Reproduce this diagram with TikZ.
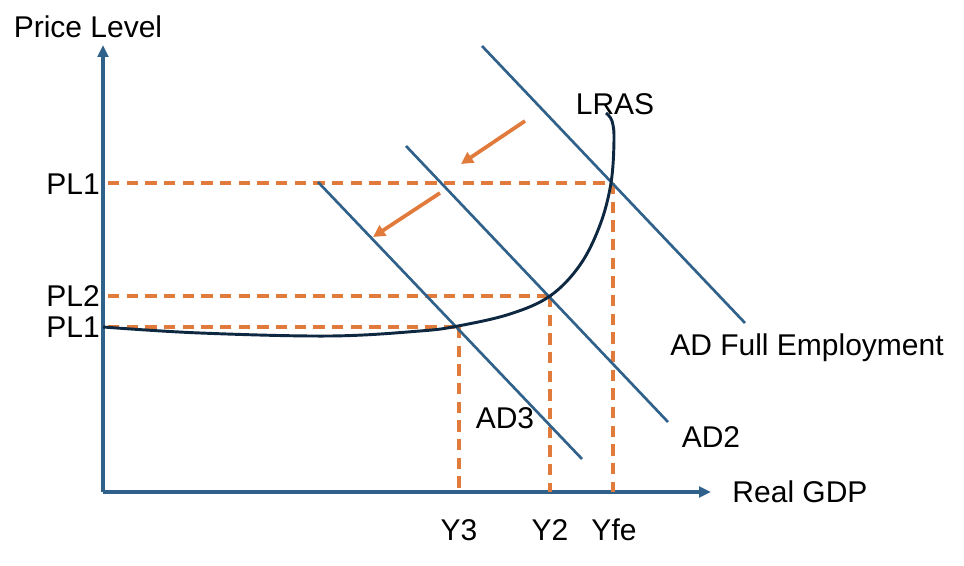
\documentclass[tikz,border=0pt]{standalone}
\usepackage{fontspec}
\setmainfont{Liberation Sans}
\usetikzlibrary{arrows.meta}
\definecolor{axisblue}{HTML}{30618A}
\definecolor{guideorange}{HTML}{E07B3C}
\definecolor{curvenavy}{HTML}{0E2841}
\tikzset{
  axisline/.style={axisblue, line width=2.4pt, -{Triangle[length=9pt,width=8pt]}},
  adline/.style={axisblue, line width=2pt},
  guide/.style={guideorange, line width=2.3pt, dash pattern=on 8.5pt off 5.5pt},
  shift arrow/.style={guideorange, line width=2.8pt, -{Triangle[length=9pt,width=9pt]}},
  lbl/.style={font=\fontsize{22.5}{26}\selectfont, inner sep=0pt}
}
\begin{document}
\begin{tikzpicture}[x=0.75pt,y=-0.75pt]
\useasboundingbox (0,0) rectangle (964,566);

% axes
\coordinate (O) at (103,492);
\draw [axisline] (O) -- (103,45);
\draw [axisline] (O) -- (711,492);

% equilibrium points
\coordinate (Efe) at (612,183);
\coordinate (E2) at (550,296);
\coordinate (E3) at (458,327);

% dashed guides
\draw [guide] (108,183) -- (Efe);
\draw [guide] (613,183) -- (613,492);
\draw [guide] (108,296) -- (E2);
\draw [guide] (550,296) -- (550,492);
\draw [guide] (108,327) -- (E3);
\draw [guide] (459,327) -- (459,492);

% aggregate demand
\draw [adline] (482,46) -- (745,323);
\draw [adline] (406,146) -- (668,422);
\draw [adline] (318,182) -- (582,459);

% LRAS
\draw [curvenavy, line width=2.2pt] plot [smooth, tension=0.6] coordinates {
  (103,327) (200,333) (330,336) (420,331) (458,326) (510,314) (550,296)
  (580,265) (600,225) (611,183) (614,140) (612,121) (606,113)};

% shifts
\draw [shift arrow] (525,121) -- (461,164);
\draw [shift arrow] (440,193) -- (373,237);

% labels
\node [lbl] (ylab) at (88,27) {Price Level};
\node [lbl] (xlab) at (800,492) {Real GDP};
\node [lbl] (pltop) at (73,184) {PL1};
\node [lbl] (plmid) at (73,296) {PL2};
\node [lbl] (pllow) at (73,327) {PL1};
\node [lbl] (lras) at (615,104) {LRAS};
\node [lbl] (adfe) at (807,348) {AD Full Employment};
\node [lbl] (ad2) at (711,437) {AD2};
\node [lbl] (ad3) at (505,418) {AD3};
\node [lbl] (y3) at (459,530) {Y3};
\node [lbl] (y2) at (550,530) {Y2};
\node [lbl] (yfe) at (614,530) {Yfe};
\end{tikzpicture}
\end{document}
